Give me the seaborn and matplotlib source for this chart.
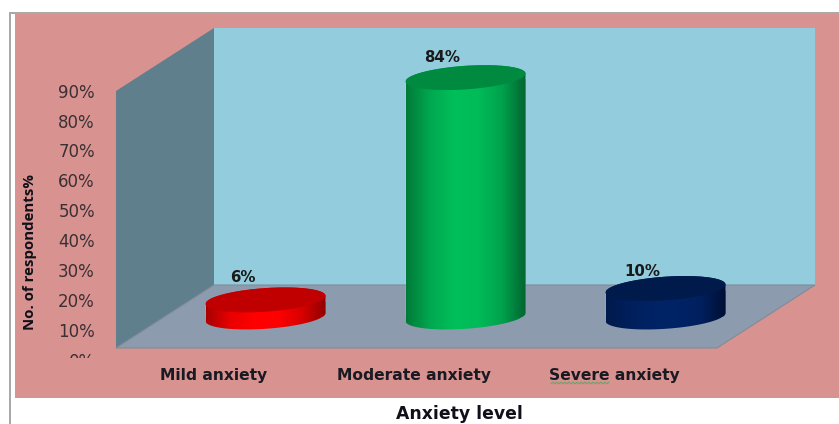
import numpy as np
import pandas as pd
import matplotlib
matplotlib.use("Agg")
import matplotlib.pyplot as plt
import seaborn as sns
from matplotlib.colors import LinearSegmentedColormap
from matplotlib.patches import Polygon, Rectangle
from matplotlib.path import Path
from matplotlib.transforms import Affine2D

categories = ["Mild anxiety", "Moderate anxiety", "Severe anxiety"]
values = [6, 84, 10]
value_labels = ["6%", "84%", "10%"]
tick_values = [0, 10, 20, 30, 40, 50, 60, 70, 80, 90]
tick_labels = ["0%", "10%", "20%", "30%", "40%", "50%", "60%", "70%", "80%", "90%"]
body_stops = [
    ["#a80000", "#e80000", "#ff0000", "#ff0000", "#d80000", "#900000"],
    ["#007a38", "#00a850", "#00bf5a", "#00bc58", "#00a24d", "#00652f"],
    ["#001a4d", "#001f5c", "#002366", "#002366", "#001f5c", "#000f33"],
]
cap_colors = ["#c00000", "#008a40", "#001a4c"]

W, H = 839, 424
BOLD = "DejaVu Sans"

sns.set_theme(style="white")
plt.rcParams["font.family"] = ["DejaVu Sans"]

fig = plt.figure(figsize=(W / 100, H / 100), dpi=100, facecolor="white")
ax = fig.add_axes([0, 0, 1, 1])
ax.set_axis_off()
px = Affine2D().scale(1 / W, -1 / H).translate(0, 1) + fig.transFigure


def pane(points, color, z, edge="none"):
    fig.add_artist(Polygon(points, closed=True, facecolor=color, edgecolor=edge,
                           linewidth=0.8, transform=px, zorder=z))


# Outer frame, chart area and the three panes of the 3-D box
pane([(9, 12), (839, 12), (839, 13.5), (11, 13.5), (11, 424), (9, 424)], "#a9a9a9", -5)
pane([(15, 13.5), (839, 13.5), (839, 398), (15, 398)], "#d89290", -4)
pane([(214, 28), (815, 28), (815, 285), (214, 285)], "#93cddd", -3)
pane([(116, 91), (214, 28), (214, 285), (116, 348)], "#5f7f8c", -2)
pane([(116, 348), (214, 285), (815, 285), (717, 348)], "#8c9bae", -2, "#7f8c98")

# Cylinders: bar geometry from seaborn, shaded and capped on top of it
frame = pd.DataFrame({"level": categories, "share": values})
sns.barplot(data=frame, x="level", y="share", hue="level", order=categories,
            hue_order=categories, palette=[c[2] for c in body_stops], width=0.6,
            legend=False, ax=ax, zorder=3)
ax.patch.set_visible(False)

ppx, ppy = 200.0, 2.85  # pixels per category step / per percent
ax.set_xlim(-265.5 / ppx, (W - 265.5) / ppx)
ax.set_ylim((317 - H) / ppy, 317 / ppy)
xlim, ylim = ax.get_xlim(), ax.get_ylim()
ax.set_axis_off()

b, k = 11.8 / ppy, 4.0 / ppy


def rim(cx, half, cy, t):
    return np.column_stack([cx + half * np.cos(t), cy + b * np.sin(t) + k * np.cos(t)])


for bar, stops, cap, text, lift in zip(ax.patches, body_stops, cap_colors,
                                       value_labels, (22, 19.6, 16.5)):
    left, half = bar.get_x(), bar.get_width() / 2
    cx, top = left + half, bar.get_height()
    upper = rim(cx, half, top, np.linspace(0, np.pi, 80))
    lower = rim(cx, half, 0, np.linspace(np.pi, 2 * np.pi, 80))
    hull = Path(np.vstack([upper, lower, upper[:1]]), closed=True)
    bar.set_clip_path(hull, ax.transData)
    shade = LinearSegmentedColormap.from_list("body", stops)
    im = ax.imshow(np.linspace(0, 1, 256)[None, :], cmap=shade, aspect="auto",
                   extent=[left, left + 2 * half, -b - k, top + b + k], zorder=3.1)
    im.set_clip_path(hull, ax.transData)
    ax.add_patch(Polygon(rim(cx, half, top, np.linspace(0, 2 * np.pi, 160)),
                         closed=True, facecolor=cap, edgecolor="none", zorder=3.2))
    ax.annotate(text, (cx, top), xytext=(-23 * 0.72, lift * 0.72), textcoords="offset points",
                ha="center", va="center", fontsize=10.8, fontweight="bold",
                family=BOLD, color="#1a1a1a", zorder=4)
ax.set_xlim(xlim)
ax.set_ylim(ylim)

# Front axis carrying the value ticks and category names along the floor edge
front = fig.add_axes([116 / W, 1 - 359.6 / H, (717 - 116) / W, (359.6 - 90.7) / H])
front.patch.set_visible(False)
sns.despine(ax=front, left=True, bottom=True, top=True, right=True)
front.set_xlim(-0.49, 2.515)
front.set_ylim(0, 90)
front.set_xticks(range(len(categories)))
front.set_xticklabels(categories, family=BOLD, fontweight="bold", fontsize=11.2,
                      color="#1a1a22")
front.set_yticks(tick_values)
front.set_yticklabels(tick_labels, fontsize=12, color="#3a3034")
front.tick_params(axis="both", length=0)
front.tick_params(axis="x", pad=6)
front.tick_params(axis="y", pad=15.2)
front.set_xlabel("Anxiety level", family=BOLD, fontweight="bold", fontsize=12.4,
                 color="#10101a")
front.xaxis.set_label_coords((459 - 116) / 601, (359.6 - 414) / (359.6 - 90.7))
front.xaxis.get_label().set_verticalalignment("center")
front.set_ylabel("No. of respondents%", family=["Open Sans", "DejaVu Sans"],
                 fontweight="bold", fontsize=10.8, color="#10101a")
front.yaxis.set_label_coords((30 - 116) / 601, (359.6 - 252) / (359.6 - 90.7))
front.yaxis.get_label().set_verticalalignment("center")

# The lowest value label is cut off by the edge of the plot frame
bottom_tick = front.get_yticklabels()[0]
bottom_tick.set_clip_on(True)
bottom_tick.set_clip_path(Rectangle((0, 0), W, 358, transform=px))

# Proofing squiggle under the first word of the last category
squiggle_x = np.arange(551, 611, 2)
squiggle_y = 383 + 0.8 * (-1.0) ** np.arange(squiggle_x.size)
fig.add_artist(plt.Line2D(squiggle_x, squiggle_y, color="#6aa56a", linewidth=0.8,
                          transform=px, zorder=6))

fig.savefig("out.png", dpi=100, facecolor="white")
